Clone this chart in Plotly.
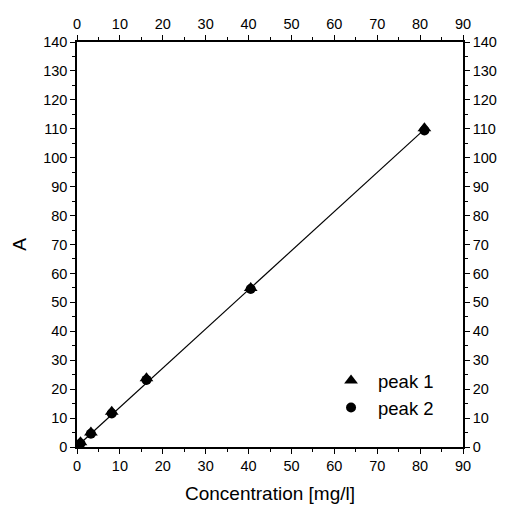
import plotly.graph_objects as go

conc = [0.81, 3.24, 8.1, 16.2, 40.5, 81.0]
peak1 = [1.6, 5.0, 12.2, 23.8, 55.0, 110.2]
peak2 = [1.2, 4.6, 11.6, 23.2, 54.6, 109.4]
fit_x = [0.81, 81.0]
fit_y = [1.3, 109.8]

font = dict(family="Liberation Sans, Arial, sans-serif", color="black")

fig = go.Figure()
fig.add_trace(go.Scatter(x=fit_x, y=fit_y, mode="lines", line=dict(color="black", width=1.2),
                         showlegend=False, hoverinfo="skip"))
fig.add_trace(go.Scatter(x=conc, y=peak1, mode="markers", name="peak 1",
                         marker=dict(symbol="triangle-up", size=12, color="black")))
fig.add_trace(go.Scatter(x=conc, y=peak2, mode="markers", name="peak 2",
                         marker=dict(symbol="circle", size=10, color="black")))
# dummy trace to hold the top/right axes
fig.add_trace(go.Scatter(x=[0], y=[0], xaxis="x2", yaxis="y2", mode="markers",
                         marker=dict(opacity=0), showlegend=False, hoverinfo="skip"))

ax = dict(showgrid=False, zeroline=False, showline=True, linecolor="black", linewidth=1.5,
          ticks="outside", ticklen=5, tickwidth=1.3, tickcolor="black", automargin=False,
          tickfont=dict(size=14.5, **font),
          minor=dict(ticks="outside", ticklen=3, tickwidth=1.3, tickcolor="black", dtick=5))

# page body has an 8px margin, so the figure is sized to fit the window
fig.update_layout(
    width=497, height=498,
    paper_bgcolor="white", plot_bgcolor="white",
    margin=dict(l=69, r=42, t=34, b=59),
    font=font,
    xaxis=dict(range=[0, 90], dtick=10,
               title=dict(text="Concentration [mg/l]", font=dict(size=19, **font), standoff=14), **ax),
    yaxis=dict(range=[0, 140], dtick=10,
               title=dict(text="A", font=dict(size=19, **font), standoff=11), **ax),
    xaxis2=dict(range=[0, 90], dtick=10, overlaying="x", side="top", anchor="y", **ax),
    yaxis2=dict(range=[0, 140], dtick=10, overlaying="y", side="right", anchor="x", **ax),
    legend=dict(x=0.640, y=0.21, xanchor="left", yanchor="top", bgcolor="rgba(0,0,0,0)",
                font=dict(size=18.5, **font), itemwidth=44, tracegroupgap=0),
    showlegend=True,
)

fig.write_html("out.html")
